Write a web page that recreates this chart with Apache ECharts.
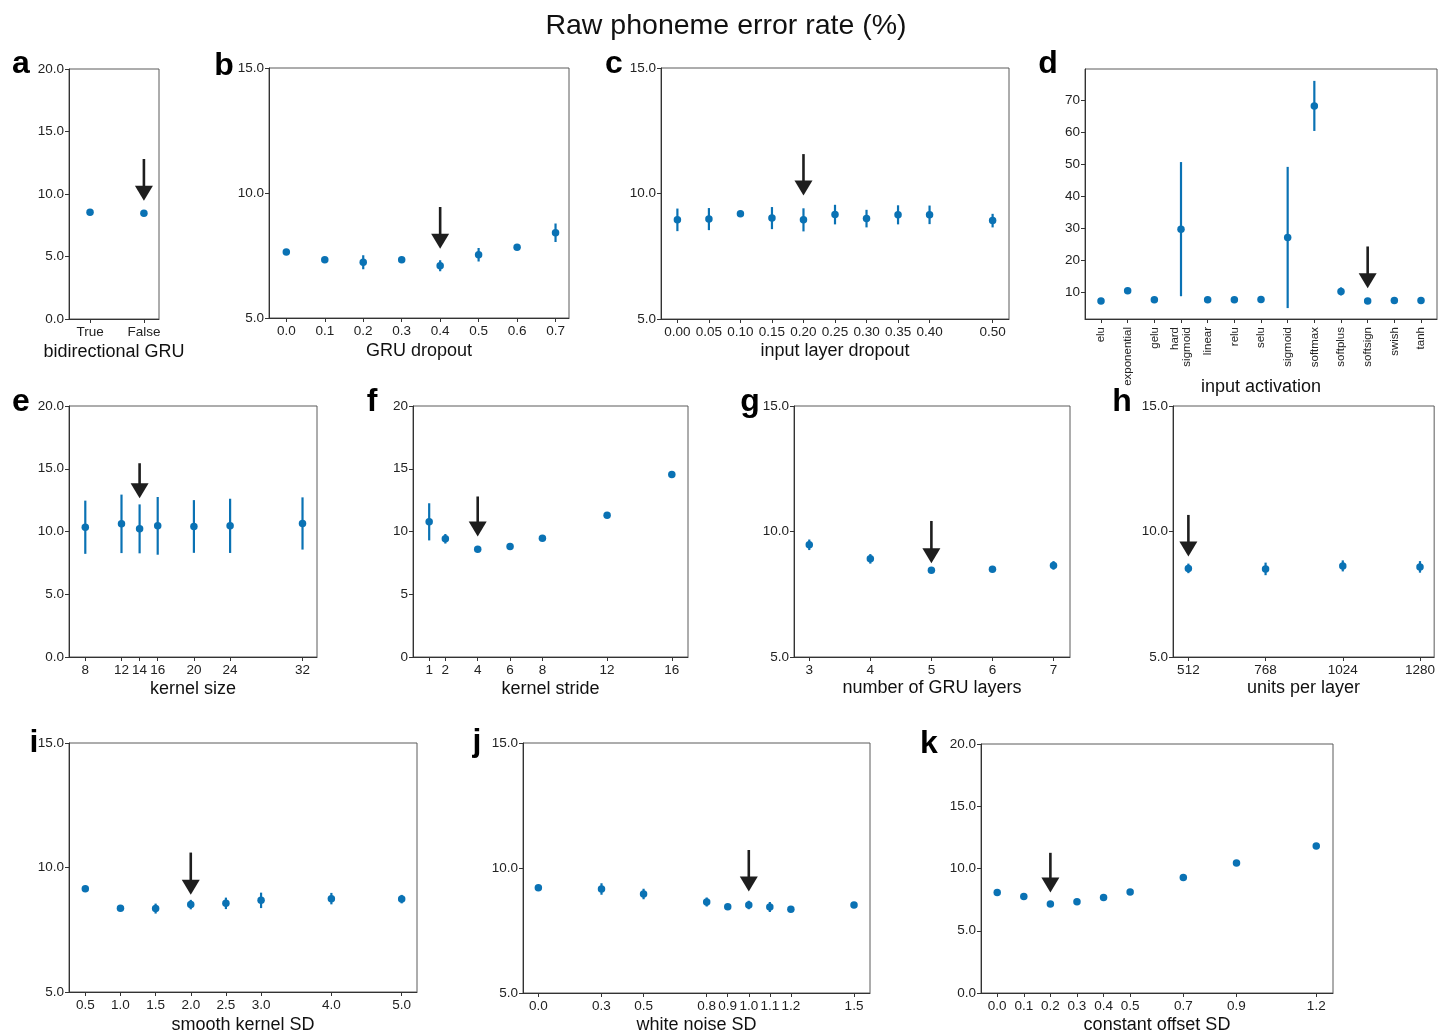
<!DOCTYPE html>
<html>
<head>
<meta charset="utf-8">
<script src="https://cdn.jsdelivr.net/npm/echarts@6/dist/echarts.min.js"></script>
<style>
  html, body { margin: 0; padding: 0; background: #fff; }
  #chart { width: 1438px; height: 1035px; }
</style>
</head>
<body>
<div id="chart"></div>
<script>
// ---- a: bidirectional GRU ----
const bidirCats = ['True', 'False'];
const bidirX = [0, 1];
const bidirMean = [8.55, 8.46];
const bidirErr = [0.05, 0.05];
const bidirChosen = [1, 12.8, 9.46];

// ---- b: GRU dropout ----
const gruDropout = [0.0, 0.1, 0.2, 0.3, 0.4, 0.5, 0.6, 0.7];
const gruDropoutMean = [7.64, 7.33, 7.23, 7.33, 7.09, 7.53, 7.83, 8.41];
const gruDropoutErr = [0.06, 0.06, 0.28, 0.06, 0.22, 0.27, 0.08, 0.37];
const gruDropoutChosen = [0.4, 9.44, 7.77];

// ---- c: input layer dropout ----
const inputDropout = [0.00, 0.05, 0.10, 0.15, 0.20, 0.25, 0.30, 0.35, 0.40, 0.50];
const inputDropoutMean = [8.95, 8.98, 9.19, 9.02, 8.95, 9.16, 9.00, 9.15, 9.15, 8.92];
const inputDropoutErr = [0.45, 0.44, 0.12, 0.44, 0.46, 0.39, 0.35, 0.38, 0.37, 0.27];
const inputDropoutChosen = [0.20, 11.57, 9.92];

// ---- d: input activation ----
const activations = ['elu', 'exponential', 'gelu', 'hard\nsigmoid', 'linear', 'relu', 'selu',
  'sigmoid', 'softmax', 'softplus', 'softsign', 'swish', 'tanh'];
const activationX = [0, 1, 2, 3, 4, 5, 6, 7, 8, 9, 10, 11, 12];
const activationMean = [7.4, 10.6, 7.8, 29.8, 7.8, 7.8, 7.9, 27.2, 68.2, 10.4, 7.4, 7.6, 7.6];
const activationErr = [0.3, 0.3, 0.3, 20.9, 0.3, 0.3, 0.3, 22.0, 7.8, 1.25, 0.3, 0.3, 0.3];
const activationChosen = [10, 24.4, 11.35];

// ---- e: kernel size ----
const kernelSize = [8, 12, 14, 16, 20, 24, 32];
const kernelSizeMean = [10.34, 10.61, 10.21, 10.45, 10.40, 10.45, 10.64];
const kernelSizeErr = [2.12, 2.33, 1.95, 2.30, 2.10, 2.16, 2.08];
const kernelSizeChosen = [14, 15.44, 12.65];

// ---- f: kernel stride ----
const kernelStride = [1, 2, 4, 6, 8, 12, 16];
const kernelStrideMean = [10.77, 9.42, 8.59, 8.81, 9.47, 11.30, 14.54];
const kernelStrideErr = [1.48, 0.38, 0.1, 0.1, 0.1, 0.1, 0.1];
const kernelStrideChosen = [4, 12.79, 9.6];

// ---- g: number of GRU layers ----
const gruLayers = [3, 4, 5, 6, 7];
const gruLayersMean = [9.47, 8.91, 8.46, 8.50, 8.65];
const gruLayersErr = [0.21, 0.19, 0.06, 0.08, 0.17];
const gruLayersChosen = [5, 10.42, 8.74];

// ---- h: units per layer ----
const unitsPerLayer = [512, 768, 1024, 1280];
const unitsMean = [8.53, 8.51, 8.63, 8.59];
const unitsErr = [0.19, 0.25, 0.22, 0.23];
const unitsChosen = [512, 10.66, 9.0];

// ---- i: smooth kernel SD ----
const smoothSD = [0.5, 1.0, 1.5, 2.0, 2.5, 3.0, 4.0, 5.0];
const smoothMean = [9.15, 8.36, 8.35, 8.51, 8.56, 8.68, 8.75, 8.73];
const smoothErr = [0.06, 0.08, 0.2, 0.19, 0.23, 0.31, 0.23, 0.17];
const smoothChosen = [2.0, 10.6, 8.91];

// ---- j: white noise SD ----
const whiteNoiseSD = [0.0, 0.3, 0.5, 0.8, 0.9, 1.0, 1.1, 1.2, 1.5];
const whiteNoiseMean = [9.21, 9.16, 8.96, 8.64, 8.45, 8.52, 8.44, 8.35, 8.52];
const whiteNoiseErr = [0.06, 0.23, 0.21, 0.18, 0.07, 0.17, 0.2, 0.06, 0.06];
const whiteNoiseChosen = [1.0, 10.72, 9.06];

// ---- k: constant offset SD ----
const offsetSD = [0.0, 0.1, 0.2, 0.3, 0.4, 0.5, 0.7, 0.9, 1.2];
const offsetMean = [8.07, 7.75, 7.14, 7.32, 7.67, 8.12, 9.27, 10.44, 11.8];
const offsetErr = [0.1, 0.21, 0.21, 0.1, 0.12, 0.16, 0.1, 0.22, 0.1];
const offsetChosen = [0.2, 11.26, 8.07];

const BLUE = '#0a72b4';
const INK = '#222';
const FONT = 'Liberation Sans, Arial, Helvetica, sans-serif';

const fix = d => v => v.toFixed(d);

// Panel layout: box = [left, top, width, height] in px
const panels = [
  { letter: 'a', letterAt: [21, 64], box: [69, 69, 90, 250], xRange: [-0.39, 1.28], yRange: [0, 20],
    xTicks: bidirX, yTicks: [0, 5, 10, 15, 20], xFmt: v => bidirCats[Math.round(v)], yFmt: fix(1),
    xName: 'bidirectional GRU', nameGap: 24, xs: bidirX, mean: bidirMean, err: bidirErr, chosen: bidirChosen },
  { letter: 'b', letterAt: [224, 66], box: [269, 68, 300, 250], xRange: [-0.045, 0.735], yRange: [5, 15],
    xTicks: gruDropout, yTicks: [5, 10, 15], xFmt: fix(1), yFmt: fix(1),
    xName: 'GRU dropout', nameGap: 24, xs: gruDropout, mean: gruDropoutMean, err: gruDropoutErr, chosen: gruDropoutChosen },
  { letter: 'c', letterAt: [614, 64], box: [661, 68, 348, 251], xRange: [-0.026, 0.526], yRange: [5, 15],
    xTicks: inputDropout, yTicks: [5, 10, 15], xFmt: fix(2), yFmt: fix(1),
    xName: 'input layer dropout', nameGap: 23, xs: inputDropout, mean: inputDropoutMean, err: inputDropoutErr, chosen: inputDropoutChosen },
  { letter: 'd', letterAt: [1048, 64], box: [1085, 69, 352, 250], xRange: [-0.6, 12.6], yRange: [1.8, 79.7],
    xTicks: activationX, yTicks: [10, 20, 30, 40, 50, 60, 70], xFmt: v => activations[Math.round(v)], yFmt: fix(0),
    xRotate: 90, xFont: 11.5, xMargin: 8,
    xName: 'input activation', nameGap: 59, xs: activationX, mean: activationMean, err: activationErr, chosen: activationChosen },
  { letter: 'e', letterAt: [21, 402], box: [69, 406, 248, 251], xRange: [6.2, 33.6], yRange: [0, 20],
    xTicks: kernelSize, yTicks: [0, 5, 10, 15, 20], xFmt: fix(0), yFmt: fix(1),
    xName: 'kernel size', nameGap: 23, xs: kernelSize, mean: kernelSizeMean, err: kernelSizeErr, chosen: kernelSizeChosen },
  { letter: 'f', letterAt: [372, 402], box: [413, 406, 275, 251], xRange: [0.0, 17.0], yRange: [0, 20],
    xTicks: kernelStride, yTicks: [0, 5, 10, 15, 20], xFmt: fix(0), yFmt: fix(0),
    xName: 'kernel stride', nameGap: 23, xs: kernelStride, mean: kernelStrideMean, err: kernelStrideErr, chosen: kernelStrideChosen },
  { letter: 'g', letterAt: [750, 402], box: [794, 406, 276, 251], xRange: [2.75, 7.27], yRange: [5, 15],
    xTicks: gruLayers, yTicks: [5, 10, 15], xFmt: fix(0), yFmt: fix(1),
    xName: 'number of GRU layers', nameGap: 22, xs: gruLayers, mean: gruLayersMean, err: gruLayersErr, chosen: gruLayersChosen },
  { letter: 'h', letterAt: [1122, 402], box: [1173, 406, 262, 251], xRange: [461, 1327], yRange: [5, 15],
    xTicks: unitsPerLayer, yTicks: [5, 10, 15], xFmt: fix(0), yFmt: fix(1),
    xName: 'units per layer', nameGap: 22, xs: unitsPerLayer, mean: unitsMean, err: unitsErr, chosen: unitsChosen },
  { letter: 'i', letterAt: [34, 743], box: [69, 743, 348, 250], xRange: [0.268, 5.218], yRange: [5, 15],
    xTicks: smoothSD, yTicks: [5, 10, 15], xFmt: fix(1), yFmt: fix(1),
    xName: 'smooth kernel SD', nameGap: 24, xs: smoothSD, mean: smoothMean, err: smoothErr, chosen: smoothChosen },
  { letter: 'j', letterAt: [477, 742], box: [523, 743, 347, 251], xRange: [-0.073, 1.576], yRange: [5, 15],
    xTicks: whiteNoiseSD, yTicks: [5, 10, 15], xFmt: fix(1), yFmt: fix(1),
    xName: 'white noise SD', nameGap: 23, xs: whiteNoiseSD, mean: whiteNoiseMean, err: whiteNoiseErr, chosen: whiteNoiseChosen },
  { letter: 'k', letterAt: [929, 744], box: [981, 744, 352, 250], xRange: [-0.061, 1.263], yRange: [0, 20],
    xTicks: offsetSD, yTicks: [0, 5, 10, 15, 20], xFmt: fix(1), yFmt: fix(1),
    xName: 'constant offset SD', nameGap: 23, xs: offsetSD, mean: offsetMean, err: offsetErr, chosen: offsetChosen }
];

const grids = [], xAxes = [], yAxes = [], series = [];
const graphics = [{
  type: 'text', x: 726, y: 26,
  style: { text: 'Raw phoneme error rate (%)', font: '28.5px ' + FONT, fill: '#111', align: 'center', verticalAlign: 'middle' }
}];

panels.forEach((p, i) => {
  grids.push({
    left: p.box[0], top: p.box[1], width: p.box[2], height: p.box[3],
    show: true, borderColor: '#5a5a5a', borderWidth: 1, backgroundColor: 'transparent'
  });
  xAxes.push({
    gridIndex: i, type: 'value', min: p.xRange[0], max: p.xRange[1],
    axisLine: { show: true, onZero: false, lineStyle: { color: '#333', width: 1 } },
    axisTick: { show: true, customValues: p.xTicks, length: 4, lineStyle: { color: '#333' } },
    axisLabel: { customValues: p.xTicks, formatter: p.xFmt, rotate: p.xRotate || 0,
      fontSize: p.xFont || 13.5, fontFamily: FONT, color: INK, margin: p.xMargin || 6 },
    splitLine: { show: false },
    name: p.xName, nameLocation: 'middle', nameGap: p.nameGap, nameMoveOverlap: false,
    nameTextStyle: { fontSize: 18, fontFamily: FONT, color: '#111' }
  });
  yAxes.push({
    gridIndex: i, type: 'value', min: p.yRange[0], max: p.yRange[1],
    axisLine: { show: true, onZero: false, lineStyle: { color: '#333', width: 1 } },
    axisTick: { show: true, customValues: p.yTicks, length: 4, lineStyle: { color: '#333' } },
    axisLabel: { customValues: p.yTicks, formatter: p.yFmt, fontSize: 13.5, fontFamily: FONT, color: INK, margin: 5 },
    splitLine: { show: false }
  });

  // error bars: mean ± spread
  series.push({
    type: 'custom', xAxisIndex: i, yAxisIndex: i, silent: true, z: 2,
    data: p.xs.map((x, k) => [x, p.mean[k] - p.err[k], p.mean[k] + p.err[k]]),
    encode: { x: 0, y: [1, 2] },
    renderItem: (params, api) => {
      const x = api.value(0);
      const lo = api.coord([x, api.value(1)]);
      const hi = api.coord([x, api.value(2)]);
      return { type: 'line', shape: { x1: lo[0], y1: lo[1], x2: hi[0], y2: hi[1] },
        style: { stroke: BLUE, lineWidth: 2.2 } };
    }
  });
  // means
  series.push({
    type: 'scatter', xAxisIndex: i, yAxisIndex: i, silent: true, z: 3,
    symbol: 'circle', symbolSize: 7.5, itemStyle: { color: BLUE, opacity: 1 },
    data: p.xs.map((x, k) => [x, p.mean[k]])
  });
  // arrow marking the selected setting
  series.push({
    type: 'custom', xAxisIndex: i, yAxisIndex: i, silent: true, z: 4,
    data: [p.chosen], encode: { x: 0, y: [1, 2] },
    renderItem: (params, api) => {
      const x = api.value(0);
      const tail = api.coord([x, api.value(1)]);
      const tip = api.coord([x, api.value(2)]);
      const headH = 15, headW = 18;
      return { type: 'group', children: [
        { type: 'line', shape: { x1: tail[0], y1: tail[1], x2: tip[0], y2: tip[1] - headH + 2 },
          style: { stroke: '#1e1e1e', lineWidth: 2.6 } },
        { type: 'polygon', shape: { points: [[tip[0] - headW / 2, tip[1] - headH], [tip[0] + headW / 2, tip[1] - headH], [tip[0], tip[1]]] },
          style: { fill: '#1e1e1e' } }
      ] };
    }
  });

  graphics.push({
    type: 'text', x: p.letterAt[0], y: p.letterAt[1],
    style: { text: p.letter, font: 'bold 32px ' + FONT, fill: '#000', align: 'center', verticalAlign: 'middle' }
  });
});

const chart = echarts.init(document.getElementById('chart'), null, { renderer: 'canvas' });
chart.setOption({
  animation: false,
  backgroundColor: '#fff',
  grid: grids,
  xAxis: xAxes,
  yAxis: yAxes,
  series: series,
  graphic: graphics
});
</script>
</body>
</html>
